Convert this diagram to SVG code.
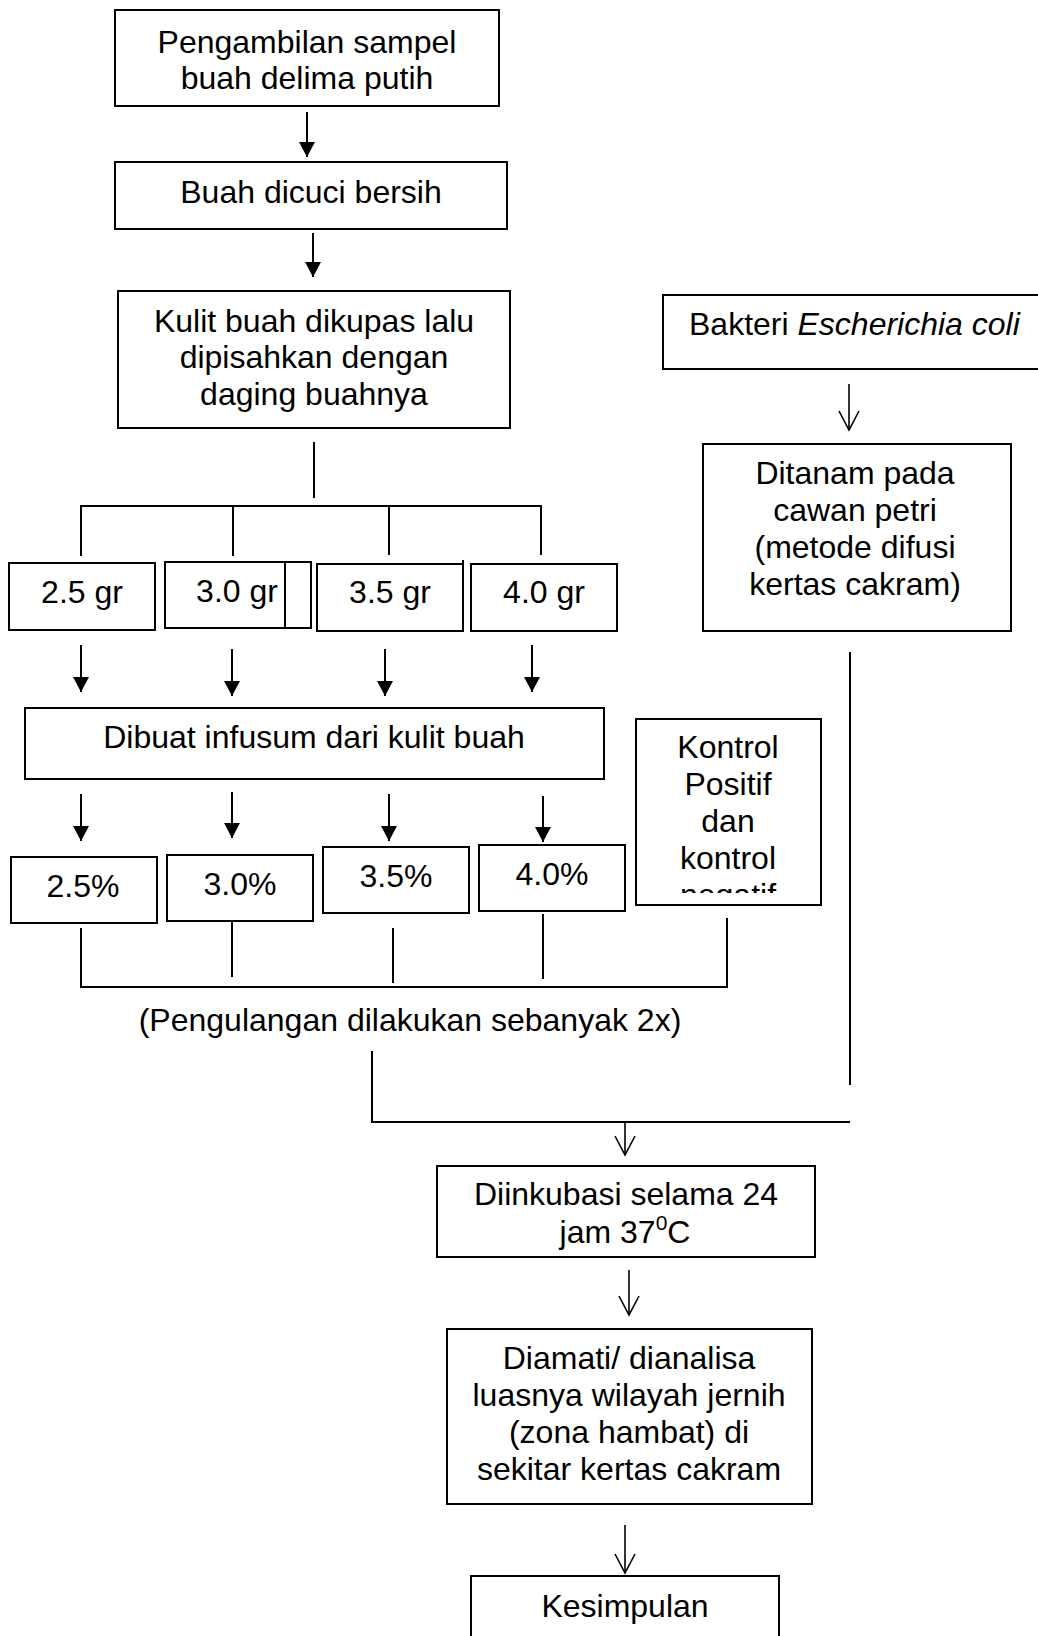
<svg xmlns="http://www.w3.org/2000/svg" width="1038" height="1636" viewBox="0 0 1038 1636">
<style>
.box{fill:#fff;stroke:#000;stroke-width:2}
.t{font-family:"Liberation Sans",Arial,sans-serif;font-size:32px;fill:#000;text-anchor:middle}
.ln{stroke:#000;stroke-width:2;fill:none}
.th{stroke:#000;stroke-width:1.6;fill:none}
</style>
<defs>
<marker id="fa" markerUnits="userSpaceOnUse" markerWidth="16" markerHeight="17" refX="15" refY="8" orient="auto" viewBox="0 0 16 17">
<path d="M0,0 L15,8 L0,16 z" fill="#000"/>
</marker>
<marker id="oa" markerUnits="userSpaceOnUse" markerWidth="22" markerHeight="24" refX="19" refY="11" orient="auto" viewBox="0 0 22 24" overflow="visible">
<path d="M0,1 L19,11 L0,21" fill="none" stroke="#000" stroke-width="1.6"/>
</marker>
<clipPath id="kclip"><rect x="636" y="719" width="186" height="174"/></clipPath>
</defs>
<rect width="1038" height="1636" fill="#fff"/>

<g id="connectors">
<line class="ln" x1="307" y1="112" x2="307" y2="157" marker-end="url(#fa)"/>
<line class="ln" x1="313" y1="233" x2="313" y2="277" marker-end="url(#fa)"/>
<line class="ln" x1="314" y1="442" x2="314" y2="498"/>
<line class="ln" x1="80" y1="506" x2="542" y2="506"/>
<line class="ln" x1="81" y1="506" x2="81" y2="556"/>
<line class="ln" x1="233" y1="506" x2="233" y2="556"/>
<line class="ln" x1="389" y1="506" x2="389" y2="555"/>
<line class="ln" x1="541" y1="506" x2="541" y2="555"/>
<line class="ln" x1="81" y1="645" x2="81" y2="692" marker-end="url(#fa)"/>
<line class="ln" x1="232" y1="649" x2="232" y2="696" marker-end="url(#fa)"/>
<line class="ln" x1="385" y1="649" x2="385" y2="696" marker-end="url(#fa)"/>
<line class="ln" x1="532" y1="645" x2="532" y2="692" marker-end="url(#fa)"/>
<line class="ln" x1="81" y1="794" x2="81" y2="841" marker-end="url(#fa)"/>
<line class="ln" x1="232" y1="792" x2="232" y2="838" marker-end="url(#fa)"/>
<line class="ln" x1="389" y1="794" x2="389" y2="841" marker-end="url(#fa)"/>
<line class="ln" x1="543" y1="796" x2="543" y2="842" marker-end="url(#fa)"/>
<line class="ln" x1="81" y1="928" x2="81" y2="987"/>
<line class="ln" x1="232" y1="920" x2="232" y2="977"/>
<line class="ln" x1="393" y1="928" x2="393" y2="983"/>
<line class="ln" x1="543" y1="914" x2="543" y2="979"/>
<line class="ln" x1="727" y1="918" x2="727" y2="987"/>
<line class="ln" x1="80" y1="987" x2="728" y2="987"/>
<line class="th" x1="849" y1="384" x2="849" y2="430" marker-end="url(#oa)"/>
<line class="ln" x1="850" y1="652" x2="850" y2="1085"/>
<line class="ln" x1="372" y1="1051" x2="372" y2="1122"/>
<line class="ln" x1="371" y1="1122" x2="850" y2="1122"/>
<line class="th" x1="625" y1="1122" x2="625" y2="1155" marker-end="url(#oa)"/>
<line class="th" x1="629" y1="1270" x2="629" y2="1315" marker-end="url(#oa)"/>
<line class="th" x1="625" y1="1525" x2="625" y2="1573" marker-end="url(#oa)"/>
</g>

<g id="n-pengambilan">
<rect class="box" x="115" y="10" width="384" height="96"/>
<text class="t" x="307" y="53">Pengambilan sampel</text>
<text class="t" x="307" y="89">buah delima putih</text>
</g>
<g id="n-dicuci">
<rect class="box" x="115" y="162" width="392" height="67"/>
<text class="t" x="311" y="203">Buah dicuci bersih</text>
</g>
<g id="n-kulit">
<rect class="box" x="118" y="291" width="392" height="137"/>
<text class="t" x="314" y="332">Kulit buah dikupas lalu</text>
<text class="t" x="314" y="368">dipisahkan dengan</text>
<text class="t" x="314" y="405">daging buahnya</text>
</g>
<g id="n-25gr">
<rect class="box" x="9" y="563" width="146" height="67"/>
<text class="t" x="82" y="603">2.5 gr</text>
</g>
<g id="n-30gr">
<rect class="box" x="165" y="562" width="146" height="66"/>
<line class="ln" x1="285" y1="562" x2="285" y2="627"/>
<text class="t" x="237" y="602">3.0 gr</text>
</g>
<g id="n-35gr">
<rect class="box" x="317" y="564" width="146" height="67"/>
<line class="ln" x1="463" y1="560" x2="463" y2="631"/>
<text class="t" x="390" y="603">3.5 gr</text>
</g>
<g id="n-40gr">
<rect class="box" x="471" y="564" width="146" height="67"/>
<text class="t" x="544" y="603">4.0 gr</text>
</g>
<g id="n-bakteri">
<rect class="box" x="663" y="295" width="400" height="74"/>
<text class="t" x="689" y="335" style="text-anchor:start">Bakteri <tspan font-style="italic">Escherichia coli</tspan></text>
</g>
<g id="n-ditanam">
<rect class="box" x="703" y="444" width="308" height="187"/>
<text class="t" x="855" y="484">Ditanam pada</text>
<text class="t" x="855" y="521">cawan petri</text>
<text class="t" x="855" y="558">(metode difusi</text>
<text class="t" x="855" y="595">kertas cakram)</text>
</g>
<g id="n-infusum">
<rect class="box" x="25" y="708" width="579" height="71"/>
<text class="t" x="314" y="748">Dibuat infusum dari kulit buah</text>
</g>
<g id="n-kontrol">
<rect class="box" x="636" y="719" width="185" height="186"/>
<g clip-path="url(#kclip)">
<text class="t" x="728" y="758">Kontrol</text>
<text class="t" x="728" y="795">Positif</text>
<text class="t" x="728" y="832">dan</text>
<text class="t" x="728" y="869">kontrol</text>
<text class="t" x="728" y="906">negatif</text>
</g>
</g>
<g id="n-25p">
<rect class="box" x="11" y="857" width="146" height="66"/>
<text class="t" x="83" y="897">2.5%</text>
</g>
<g id="n-30p">
<rect class="box" x="167" y="855" width="146" height="66"/>
<text class="t" x="240" y="895">3.0%</text>
</g>
<g id="n-35p">
<rect class="box" x="323" y="847" width="146" height="66"/>
<text class="t" x="396" y="887">3.5%</text>
</g>
<g id="n-40p">
<rect class="box" x="479" y="845" width="146" height="66"/>
<text class="t" x="552" y="885">4.0%</text>
</g>
<g id="n-pengulangan">
<text class="t" x="410" y="1031">(Pengulangan dilakukan sebanyak 2x)</text>
</g>
<g id="n-inkubasi">
<rect class="box" x="437" y="1166" width="378" height="91"/>
<text class="t" x="626" y="1205">Diinkubasi selama 24</text>
<text class="t" x="625" y="1243">jam 37<tspan font-size="21" dy="-13">0</tspan><tspan dy="13">C</tspan></text>
</g>
<g id="n-diamati">
<rect class="box" x="447" y="1329" width="365" height="175"/>
<text class="t" x="629" y="1369">Diamati/ dianalisa</text>
<text class="t" x="629" y="1406">luasnya wilayah jernih</text>
<text class="t" x="629" y="1443">(zona hambat) di</text>
<text class="t" x="629" y="1480">sekitar kertas cakram</text>
</g>
<g id="n-kesimpulan">
<rect class="box" x="471" y="1576" width="308" height="80"/>
<text class="t" x="625" y="1617">Kesimpulan</text>
</g>
</svg>
